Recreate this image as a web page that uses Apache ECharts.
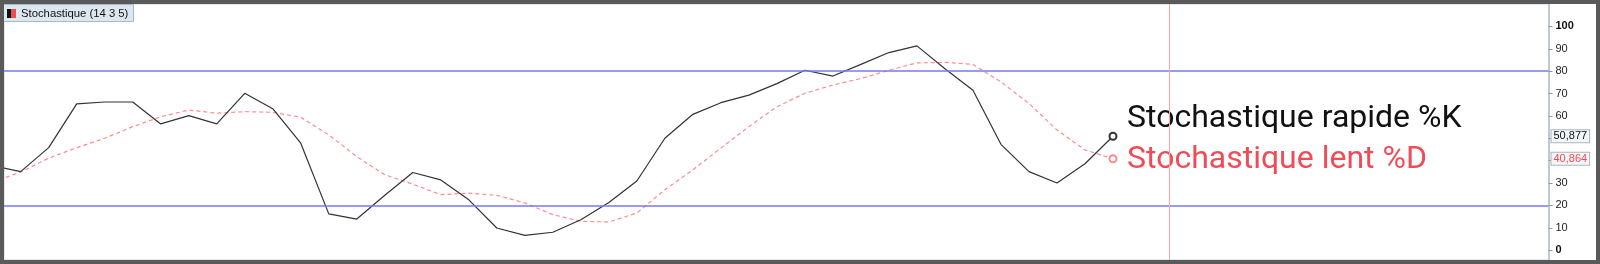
<!DOCTYPE html>
<html><head><meta charset="utf-8">
<script src="https://cdn.jsdelivr.net/npm/echarts@6/dist/echarts.min.js"></script>
<style>html,body{margin:0;padding:0;background:#fff;overflow:hidden}#c{width:1600px;height:264px}</style>
</head><body><div id="c"></div>
<script>
const indexes = [0,1,2,3,4,5,6,7,8,9,10,11,12,13,14,15,16,17,18,19,20,21,22,23,24,25,26,27,28,29,30,31,32,33,34,35,36,37,38,39,40];
const kValues = [37.7,35.1,45.8,65.4,66.2,66.2,56.4,60.1,56.4,70.1,63.2,47.8,16.2,13.9,24.5,34.7,31.4,22.5,9.9,6.6,8.0,13.6,21.3,30.9,50.0,60.7,65.9,69.3,74.4,80.4,77.8,83.0,88.3,91.3,81.1,71.5,47.3,35.1,30.0,38.6,50.877];
const dValues = [30.4,34.9,41.1,45.8,50.0,55.2,59.6,62.6,61.2,61.9,61.6,59.4,51.5,41.8,33.7,29.5,24.8,25.5,24.5,21.1,15.9,12.9,12.6,16.6,27.0,35.9,45.6,55.2,64.1,70.1,73.8,76.7,80.4,83.7,83.9,83.0,75.2,65.6,53.7,44.8,40.864];
const yTickLabels = [0,10,20,30,40,50,60,70,80,90,100];
const overboughtLevel = 80;
const oversoldLevel = 20;
const cursorIndex = 42;
const kName = 'Stochastique rapide %K';
const dName = 'Stochastique lent %D';
const panelTitle = 'Stochastique (14 3 5)';

const X_MIN = 0.404, X_MAX = 55.55;
const last = kValues.length - 1;
function build(vals) {
  return vals.map((v, i) => i === last
    ? { value: [indexes[i], v], symbol: 'emptyCircle', symbolSize: 7 }
    : { value: [indexes[i], v] });
}
const fmt = v => v.toFixed(3).replace('.', ',');
function valueBox(v, color) {
  return {
    silent: true,
    symbol: 'rect', symbolSize: 0,
    data: [{ coord: [X_MAX, v], value: v }],
    label: {
      show: true, position: 'right', distance: 3,
      formatter: p => fmt(p.value),
      fontSize: 11, fontFamily: 'Liberation Sans', color: color,
      backgroundColor: '#f3f6f8', borderColor: '#a9b6bf', borderWidth: 1,
      padding: [1, 2, 0, 2]
    }
  };
}

const chart = echarts.init(document.getElementById('c'), null, { renderer: 'canvas' });
chart.setOption({
  animation: false,
  backgroundColor: '#fff',
  title: {
    text: '{ka|}{kb|}{gap|}{t|' + panelTitle + '}',
    left: 3, top: 4, padding: [4, 5, 3, 4],
    backgroundColor: '#dde7ef', borderColor: '#a9b8c4', borderWidth: 1,
    textStyle: {
      fontWeight: 'normal', fontSize: 11,
      rich: {
        ka: { width: 4.5, height: 9, backgroundColor: '#111' },
        kb: { width: 4.5, height: 9, backgroundColor: '#f04a55' },
        gap: { width: 5, height: 9 },
        t: { fontSize: 11.3, fontWeight: 'normal', color: '#111', fontFamily: 'Liberation Sans' }
      }
    }
  },
  grid: { left: 4, right: 51.5, top: 4, bottom: 4, show: true, borderColor: '#c5d1d9', borderWidth: 1, backgroundColor: '#fff' },
  xAxis: { type: 'value', min: X_MIN, max: X_MAX, show: false },
  yAxis: {
    type: 'value', position: 'right', min: -4.4, max: 110,
    splitLine: { show: false },
    axisLine: { show: true, lineStyle: { color: '#bccad3', width: 2 } },
    axisTick: { show: true, length: 4, customValues: yTickLabels, lineStyle: { color: '#999' } },
    axisLabel: {
      customValues: yTickLabels, margin: 7, fontSize: 11, color: '#222', fontFamily: 'Liberation Sans',
      formatter: v => (v === 0 || v === 100) ? '{b|' + v + '}' : String(v),
      rich: { b: { fontWeight: 'bold', fontSize: 11, color: '#111', fontFamily: 'Liberation Sans' } }
    }
  },
  graphic: [{
    type: 'rect', z: 100, silent: true,
    shape: { x: 2, y: 2, width: 1596, height: 260 },
    style: { fill: 'none', stroke: '#5a5a5a', lineWidth: 4 }
  }],
  series: [
    {
      type: 'line', name: kName, data: build(kValues), symbol: 'none', showSymbol: true, clip: true, z: 4,
      lineStyle: { color: '#333', width: 1.2 },
      itemStyle: { color: '#333', borderWidth: 1 },
      endLabel: { show: true, formatter: kName, distance: 14, offset: [0, -17], fontSize: 32, fontFamily: 'Roboto', color: '#111' },
      markLine: {
        silent: true, symbol: 'none', label: { show: false },
        data: [
          { yAxis: overboughtLevel, lineStyle: { color: '#7878f0', width: 1.5, type: 'solid' } },
          { yAxis: oversoldLevel, lineStyle: { color: '#7878f0', width: 1.5, type: 'solid' } },
          { xAxis: cursorIndex, lineStyle: { color: '#ffa3a3', width: 1, type: 'solid' } }
        ]
      },
      markPoint: valueBox(kValues[last], '#111')
    },
    {
      type: 'line', name: dName, data: build(dValues), symbol: 'none', showSymbol: true, clip: true, z: 3,
      lineStyle: { color: '#ff8c8c', width: 1.2, type: [4, 3] },
      itemStyle: { color: '#ff8c8c', borderWidth: 1 },
      endLabel: { show: true, formatter: dName, distance: 14, offset: [0, 1.5], fontSize: 32, fontFamily: 'Roboto', color: '#ef4c58' },
      markPoint: valueBox(dValues[last], '#f04a55')
    }
  ]
});
</script>
</body></html>
